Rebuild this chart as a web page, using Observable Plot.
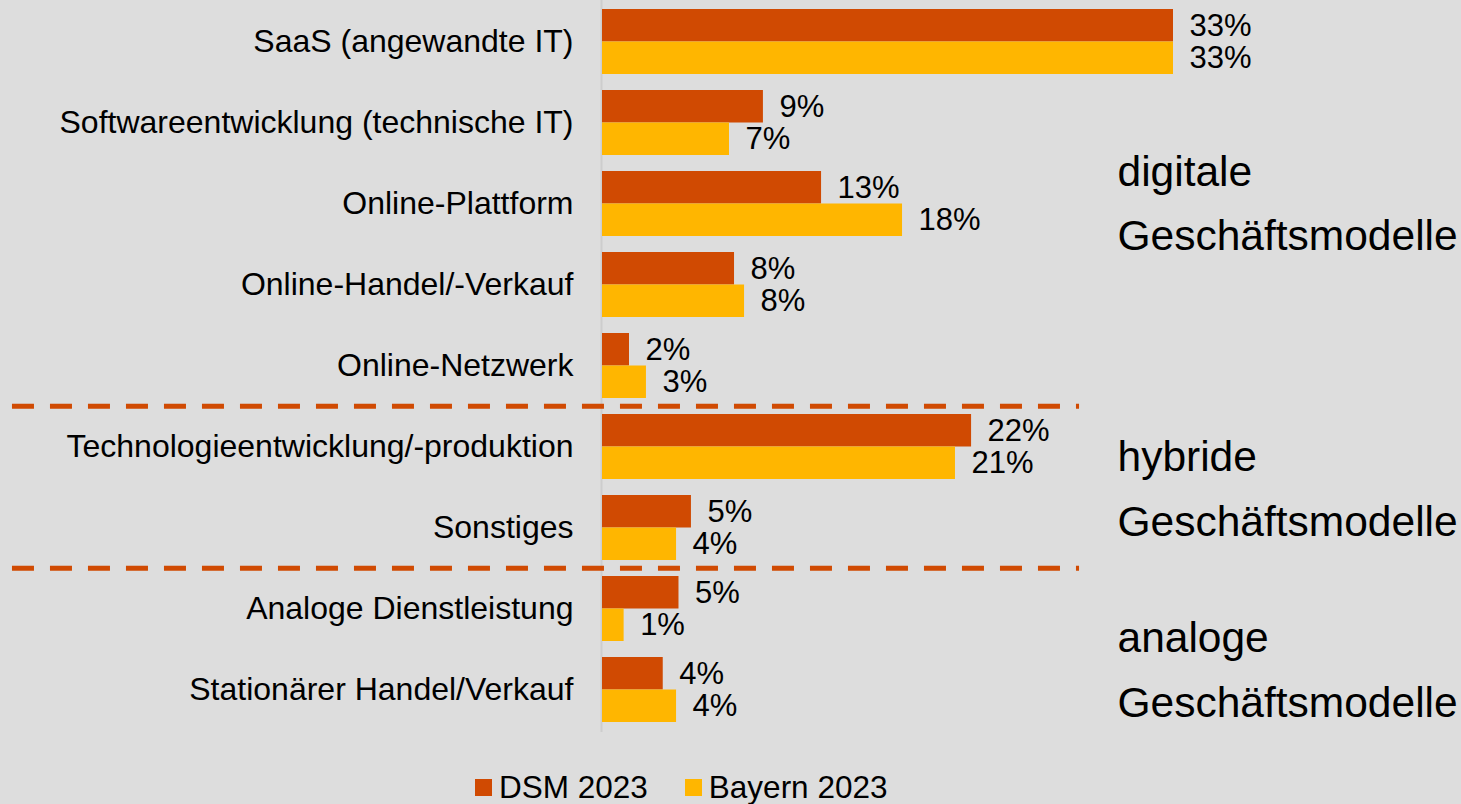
<!DOCTYPE html>
<html>
<head>
<meta charset="utf-8">
<script src="https://cdn.jsdelivr.net/npm/d3@7"></script>
<script src="https://cdn.jsdelivr.net/npm/@observablehq/plot@0.6"></script>
<style>
  html, body { margin: 0; padding: 0; background: #dddddd; }
  body { width: 1461px; height: 804px; overflow: hidden; font-family: "Liberation Sans", Arial, sans-serif; }
  #chart svg { display: block; }
  .legend { display: flex; align-items: center; margin-left: 475px; margin-top: 12px; font-size: 31.5px; line-height: 31px; color: #000; }
  .legend .item { display: flex; align-items: center; }
  .legend .sw { width: 17px; height: 17px; margin-right: 7px; }
  .legend .item + .item { margin-left: 37px; }
</style>
</head>
<body>
<div id="chart"></div>
<script>
const categories = [
  "SaaS (angewandte IT)",
  "Softwareentwicklung (technische IT)",
  "Online-Plattform",
  "Online-Handel/-Verkauf",
  "Online-Netzwerk",
  "Technologieentwicklung/-produktion",
  "Sonstiges",
  "Analoge Dienstleistung",
  "Stationärer Handel/Verkauf"
];
const series = ["DSM 2023", "Bayern 2023"];
const dsmValues    = [33, 9.3, 12.66, 7.63, 1.56, 21.33, 5.14, 4.42, 3.51];
const bayernValues = [33, 7.34, 17.34, 8.21, 2.54, 20.4, 4.28, 1.25, 4.28];
const dsmLabels    = ["33%", "9%", "13%", "8%", "2%", "22%", "5%", "5%", "4%"];
const bayernLabels = ["33%", "7%", "18%", "8%", "3%", "21%", "4%", "1%", "4%"];
const groupLabels = ["digitale\nGeschäftsmodelle", "hybride\nGeschäftsmodelle", "analoge\nGeschäftsmodelle"];
const groupBoundaries = ["Technologieentwicklung/-produktion", "Analoge Dienstleistung"];

const colors = {"DSM 2023": "#d04a02", "Bayern 2023": "#ffb600"};

const rows = categories.map((c, i) => ({
  cat: c, dsm: dsmValues[i], bayern: bayernValues[i],
  dsmLabel: dsmLabels[i], bayernLabel: bayernLabels[i]
}));

const fontFamily = '"Liberation Sans", Arial, sans-serif';

const chart = Plot.plot({
  width: 1461,
  height: 760,
  marginLeft: 602,
  marginRight: 0,
  marginTop: 0,
  marginBottom: 28,
  style: { background: "#dddddd", fontFamily, color: "#000", overflow: "visible" },
  x: { domain: [0, 33], range: [602, 1173], axis: null },
  y: { domain: categories, range: [7, 724.2], paddingInner: 0.2025, paddingOuter: 0, axis: null, label: null },
  marks: [
    Plot.ruleX([0], { stroke: "#cdcdcd", strokeWidth: 2, dx: -1 }),
    Plot.ruleY(groupBoundaries, {
      y: d => d, x1: -34.1, x2: 27.57, dy: -40.75,
      stroke: colors["DSM 2023"], strokeWidth: 5, strokeDasharray: "22 16"
    }),
    Plot.barX(rows, { x: "dsm", y: "cat", fill: colors["DSM 2023"], insetBottom: 32.5 }),
    Plot.barX(rows, { x: "bayern", y: "cat", fill: colors["Bayern 2023"], insetTop: 32.5 }),
    Plot.text(rows, { x: "dsm", y: "cat", text: "dsmLabel", dx: 16, dy: -16.25, textAnchor: "start", fontSize: 31, fill: "#000" }),
    Plot.text(rows, { x: "bayern", y: "cat", text: "bayernLabel", dx: 16, dy: 16.25, textAnchor: "start", fontSize: 31, fill: "#000" }),
    Plot.axisY({ tickSize: 0, tickPadding: 29, fontSize: 32, fill: "#000", label: null }),
    Plot.text([groupLabels[0]], { x: () => 33, y: () => categories[2], text: d => d, dx: -56, dy: -6.5, textAnchor: "start", fontSize: 42.5, lineHeight: 1.52, fill: "#000" }),
    Plot.text([groupLabels[1]], { x: () => 33, y: () => categories[5], text: d => d, dx: -56, dy: 36, textAnchor: "start", fontSize: 42.5, lineHeight: 1.52, fill: "#000" }),
    Plot.text([groupLabels[2]], { x: () => 33, y: () => categories[8], text: d => d, dx: -56, dy: -26, textAnchor: "start", fontSize: 42.5, lineHeight: 1.52, fill: "#000" })
  ]
});

document.getElementById("chart").appendChild(chart);

const legend = document.createElement("div");
legend.className = "legend";
series.forEach(s => {
  const item = document.createElement("div");
  item.className = "item";
  const sw = document.createElement("span");
  sw.className = "sw";
  sw.style.background = colors[s];
  const t = document.createElement("span");
  t.textContent = s;
  item.appendChild(sw);
  item.appendChild(t);
  legend.appendChild(item);
});
document.getElementById("chart").appendChild(legend);
</script>
</body>
</html>
